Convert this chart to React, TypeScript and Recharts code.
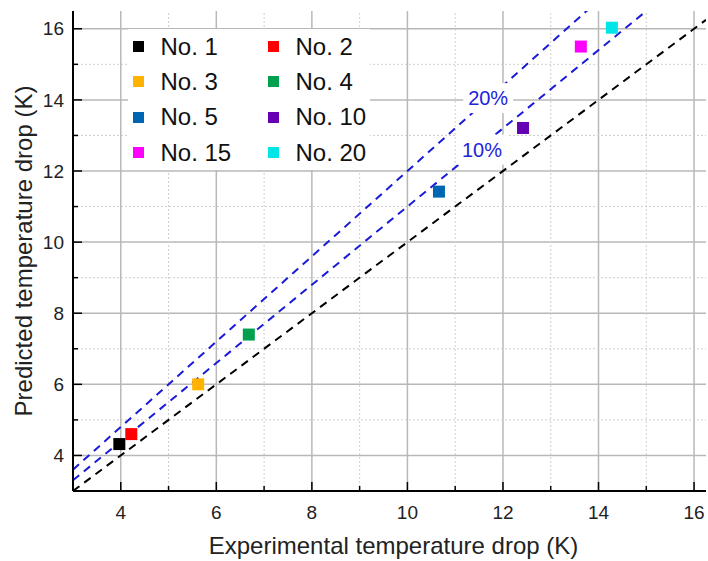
import React from "react";
import {
  ScatterChart,
  Scatter,
  XAxis,
  YAxis,
  CartesianGrid,
  ReferenceLine,
  ReferenceDot,
  Legend,
} from "recharts";

const samples = ["No. 1", "No. 2", "No. 3", "No. 4", "No. 5", "No. 10", "No. 15", "No. 20"];
const experimental = [3.97, 4.22, 5.62, 6.68, 10.66, 12.42, 13.63, 14.28];
const predicted = [4.32, 4.6, 6.0, 7.4, 11.42, 13.21, 15.5, 16.03];
const colors = ["#000000", "#ff0000", "#ffb300", "#00a04f", "#0066b3", "#6600b3", "#ff00ff", "#00e6e6"];

const xTicks = [3, 4, 5, 6, 7, 8, 9, 10, 11, 12, 13, 14, 15, 16];
const yTicks = [3, 4, 5, 6, 7, 8, 9, 10, 11, 12, 13, 14, 15, 16];
const majorTicks = [4, 6, 8, 10, 12, 14, 16];
const minorTicks = [5, 7, 9, 11, 13, 15];

const xDomain = [3, 16.25];
const yDomain = [3, 16.5];

// y = r * x guide lines (1:1, +10%, +20%)
const lineRatios = [1, 1.1, 1.2];
const lineColors = ["#000000", "#1a1ad9", "#1a1ad9"];

const bandLabels = ["10%", "20%"];
const bandLabelX = [11.56, 11.69];
const bandLabelY = [12.6, 14.05];

const FONT = '"Liberation Sans", Arial, sans-serif';

const isMajor = (v: number) => v % 2 === 0;

const BottomTick = (props: any) => {
  const { x, y, payload } = props;
  const v = payload.value;
  return (
    <g>
      <line x1={x} x2={x} y1={y} y2={y - (isMajor(v) ? 9 : 5)} stroke="#000" strokeWidth={1.5} />
      {isMajor(v) && (
        <text x={x} y={y + 21} dy="0.35em" textAnchor="middle" fontSize={19} fill="#222" fontFamily={FONT}>
          {v}
        </text>
      )}
    </g>
  );
};

const TopTick = (props: any) => {
  const { x, y, payload } = props;
  const v = payload.value;
  return <line x1={x} x2={x} y1={y} y2={y + (isMajor(v) ? 9 : 5)} stroke="#000" strokeWidth={1.5} />;
};

const LeftTick = (props: any) => {
  const { x, y, payload } = props;
  const v = payload.value;
  return (
    <g>
      <line x1={x} x2={x + (isMajor(v) ? 9 : 5)} y1={y} y2={y} stroke="#000" strokeWidth={1.5} />
      {isMajor(v) && (
        <text x={x - 9} y={y} dy="0.35em" textAnchor="end" fontSize={19} fill="#222" fontFamily={FONT}>
          {v}
        </text>
      )}
    </g>
  );
};

const RightTick = (props: any) => {
  const { x, y, payload } = props;
  const v = payload.value;
  return <line x1={x} x2={x - (isMajor(v) ? 9 : 5)} y1={y} y2={y} stroke="#000" strokeWidth={1.5} />;
};

const renderLegend = (props: any) => {
  const items = [...(props.payload || [])].sort(
    (a: any, b: any) => samples.indexOf(a.value) - samples.indexOf(b.value)
  );
  return (
    <div
      style={{
        display: "grid",
        gridTemplateColumns: "135px 103px",
        background: "#fff",
        paddingLeft: 4.5,
        fontFamily: FONT,
        fontSize: 24,
        color: "#111",
      }}
    >
      {items.map((entry: any) => (
        <div key={entry.value} style={{ display: "flex", alignItems: "center", height: 35.33 }}>
          <span style={{ width: 11, height: 11, background: entry.color, marginRight: 17 }} />
          <span>{entry.value}</span>
        </div>
      ))}
    </div>
  );
};

export default function App() {
  return (
    <div style={{ position: "absolute", left: 0, top: 0, background: "#fff" }}>
      <ScatterChart width={708} height={561} margin={{ top: 11, right: 2, bottom: 30, left: 13 }}>
        <CartesianGrid horizontalValues={majorTicks} verticalValues={majorTicks} stroke="#b8b8b8" strokeWidth={1.5} />
        {minorTicks.map((v) => (
          <ReferenceLine key={`mx${v}`} x={v} stroke="#cfcfcf" strokeDasharray="2 2" />
        ))}
        {minorTicks.map((v) => (
          <ReferenceLine key={`my${v}`} y={v} stroke="#cfcfcf" strokeDasharray="2 2" />
        ))}
        <XAxis
          dataKey="x"
          type="number"
          domain={xDomain}
          allowDataOverflow
          ticks={xTicks}
          interval={0}
          tickLine={false}
          tickSize={0}
          tickMargin={0}
          height={40}
          axisLine={{ stroke: "#000", strokeWidth: 2 }}
          tick={BottomTick}
          label={{
            value: "Experimental temperature drop (K)",
            position: "bottom",
            offset: 6,
            dx: 4,
            fontSize: 24,
            fill: "#222",
            fontFamily: FONT,
          }}
        />
        <XAxis
          xAxisId="top"
          orientation="top"
          type="number"
          domain={xDomain}
          allowDataOverflow
          ticks={xTicks}
          interval={0}
          tickLine={false}
          tickSize={0}
          tickMargin={0}
          height={0}
          axisLine={{ stroke: "#000", strokeWidth: 2 }}
          tick={TopTick}
        />
        <YAxis
          dataKey="y"
          type="number"
          domain={yDomain}
          allowDataOverflow
          ticks={yTicks}
          interval={0}
          tickLine={false}
          tickSize={0}
          tickMargin={0}
          width={60}
          axisLine={{ stroke: "#000", strokeWidth: 2 }}
          tick={LeftTick}
          label={{
            content: () => (
              <text
                x={23}
                y={251}
                transform="rotate(-90 23 251)"
                textAnchor="middle"
                dominantBaseline="central"
                fontSize={24}
                fill="#222"
                fontFamily={FONT}
              >
                Predicted temperature drop (K)
              </text>
            ),
          }}
        />
        <YAxis
          yAxisId="right"
          orientation="right"
          type="number"
          domain={yDomain}
          allowDataOverflow
          ticks={yTicks}
          interval={0}
          tickLine={false}
          tickSize={0}
          tickMargin={0}
          width={0}
          axisLine={{ stroke: "#000", strokeWidth: 2 }}
          tick={RightTick}
        />
        {lineRatios.map((r, i) => (
          <ReferenceLine
            key={r}
            segment={[
              { x: xDomain[0], y: xDomain[0] * r },
              { x: xDomain[1], y: xDomain[1] * r },
            ]}
            stroke={lineColors[i]}
            strokeWidth={2}
            strokeDasharray="8 6"
            ifOverflow="hidden"
          />
        ))}
        {bandLabels.map((label, i) => (
          <ReferenceDot
            key={label}
            x={bandLabelX[i]}
            y={bandLabelY[i]}
            ifOverflow="visible"
            shape={(p: any) => (
              <g>
                <rect x={p.cx - 25} y={p.cy - 15} width={50} height={30} fill="#fff" />
                <text
                  x={p.cx}
                  y={p.cy}
                  dy="0.35em"
                  textAnchor="middle"
                  fontSize={20}
                  fill="#2222dd"
                  fontFamily={FONT}
                >
                  {label}
                </text>
              </g>
            )}
          />
        ))}
        {samples.map((name, i) => (
          <Scatter
            key={name}
            name={name}
            data={[{ x: experimental[i], y: predicted[i] }]}
            fill={colors[i]}
            isAnimationActive={false}
            shape={(p: any) => <rect x={p.cx - 6} y={p.cy - 6} width={12} height={12} fill={colors[i]} />}
          />
        ))}
        <Legend
          layout="vertical"
          align="center"
          verticalAlign="middle"
          content={renderLegend}
          wrapperStyle={{ left: 128, top: 29, width: 242 }}
        />
      </ScatterChart>
    </div>
  );
}
